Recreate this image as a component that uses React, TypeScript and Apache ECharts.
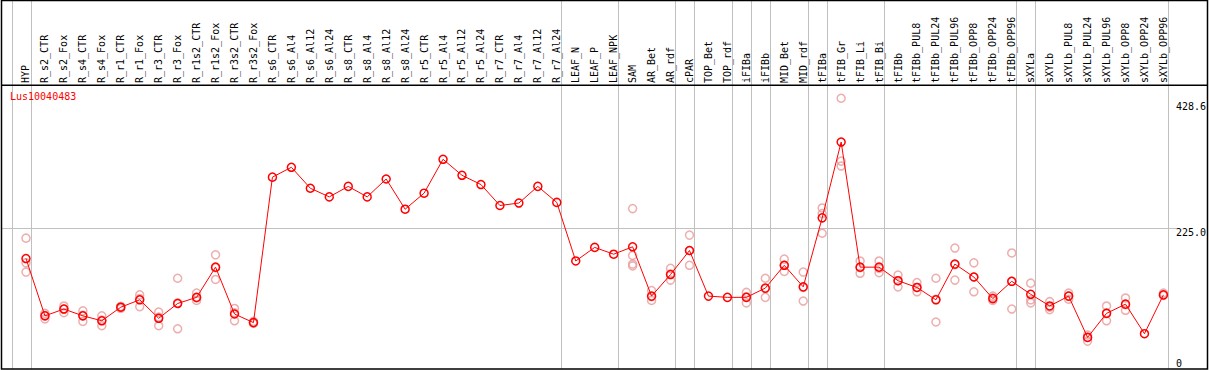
import React, { useEffect, useRef } from "react";
import * as echarts from "echarts";

const categories = [
  "HYP", "R_s2_CTR", "R_s2_Fox", "R_s4_CTR", "R_s4_Fox", "R_r1_CTR", "R_r1_Fox", "R_r3_CTR", "R_r3_Fox",
  "R_r1s2_CTR", "R_r1s2_Fox", "R_r3s2_CTR", "R_r3s2_Fox", "R_s6_CTR", "R_s6_Al4", "R_s6_Al12", "R_s6_Al24",
  "R_s8_CTR", "R_s8_Al4", "R_s8_Al12", "R_s8_Al24", "R_r5_CTR", "R_r5_Al4", "R_r5_Al12", "R_r5_Al24",
  "R_r7_CTR", "R_r7_Al4", "R_r7_Al12", "R_r7_Al24", "LEAF_N", "LEAF_P", "LEAF_NPK", "SAM", "AR_Bet", "AR_rdf",
  "cPAR", "TOP_Bet", "TOP_rdf", "iFIBa", "iFIBb", "MID_Bet", "MID_rdf", "tFIBa", "tFIB_Gr", "tFIB_Li", "tFIB_Bi",
  "tFIBb", "tFIBb_PUL8", "tFIBb_PUL24", "tFIBb_PUL96", "tFIBb_OPP8", "tFIBb_OPP24", "tFIBb_OPP96", "sXYLa",
  "sXYLb", "sXYLb_PUL8", "sXYLb_PUL24", "sXYLb_PUL96", "sXYLb_OPP8", "sXYLb_OPP24", "sXYLb_OPP96",
];

const means = [
  176, 83, 94, 83, 75, 97, 109, 79, 103, 113, 162, 86, 72, 308, 324, 290, 276, 293, 276, 305, 256, 282, 337,
  311, 296, 262, 266, 293, 267, 172, 194, 183, 195, 115, 150, 189, 115, 113, 113, 128, 165, 130, 242, 365, 162,
  162, 140, 129, 109, 167, 146, 111, 139, 118, 99, 115, 48, 87, 102, 54, 117,
];

const replicates: number[][] = [
  [209, 169, 154], [87, 78, 84], [99, 88, 94], [91, 74, 84], [83, 67, 76], [95, 98, 98], [117, 98, 111],
  [89, 67, 81], [144, 62, 104], [120, 108, 112], [182, 142, 161], [95, 75, 88], [71, 72, 74],
  [], [], [], [], [], [], [], [], [], [], [], [], [], [], [], [], [], [], [],
  [257, 181, 167, 164], [124, 108, 114], [160, 141, 151], [214, 165, 189], [], [], [121, 104, 114],
  [144, 113, 127], [175, 155, 165], [154, 107, 129], [258, 249, 217], [436, 334, 326], [172, 152, 161],
  [172, 153, 160], [149, 130, 140], [137, 122, 129], [144, 73, 110], [193, 141, 166], [169, 122, 146],
  [115, 108, 112], [185, 94, 139], [136, 109, 104], [106, 93, 97], [120, 110, 115], [52, 42, 48],
  [99, 75, 88], [112, 92, 101], [], [120, 116],
];

const groupBreaksAfter = [-1, 0, 28, 31, 34, 35, 37, 38, 39, 41, 42, 45, 52, 53, 60];
const yTickValues = [0, 225, 428.6];
const yMax = 457.5;
const geneId = "Lus10040483";

export default function App() {
  const ref = useRef<HTMLDivElement>(null);
  useEffect(() => {
    const chart = echarts.init(ref.current!, null, { renderer: "svg" });
    const font = "'DejaVu Sans Mono', monospace";
    const repData: number[][] = [];
    replicates.forEach((reps, i) => reps.forEach((v) => repData.push([i, v])));

    chart.setOption({
      animation: false,
      title: {
        text: geneId,
        left: 10,
        top: 91,
        padding: 0,
        textStyle: { color: "#ff0000", fontSize: 10, fontWeight: "normal", fontFamily: font },
      },
      grid: { left: 16.5, right: 33.5, top: 85, bottom: 3 },
      xAxis: {
        type: "category",
        data: categories,
        position: "top",
        boundaryGap: true,
        axisLine: { show: false },
        axisTick: { show: false },
        splitLine: { show: false },
        axisLabel: {
          interval: 0,
          rotate: 90,
          margin: 2,
          fontFamily: font,
          fontSize: 10,
          color: "#000",
          hideOverlap: false,
        },
      },
      yAxis: {
        type: "value",
        position: "right",
        min: 0,
        max: yMax,
        axisLine: { show: false },
        axisTick: { show: false },
        splitLine: { show: false },
        axisLabel: {
          customValues: yTickValues,
          margin: 3,
          fontFamily: font,
          fontSize: 10,
          color: "#000",
          formatter: (v: number) => (v === 0 ? "{b|0}" : "{t|" + v.toFixed(1) + "}"),
          rich: {
            t: { fontFamily: font, fontSize: 10, color: "#000", padding: [8, 0, 0, 0] },
            b: { fontFamily: font, fontSize: 10, color: "#000", padding: [0, 0, 8, 0] },
          },
        },
      },
      series: [
        {
          type: "scatter",
          data: repData,
          symbol: "circle",
          symbolSize: 8,
          itemStyle: { color: "transparent", borderColor: "#e89a9a", borderWidth: 1.5 },
          z: 2,
        },
        {
          type: "line",
          data: means,
          symbol: "circle",
          symbolSize: 8,
          showAllSymbol: true,
          lineStyle: { color: "#ff0000", width: 1 },
          itemStyle: { color: "transparent", borderColor: "#ff0000", borderWidth: 1.5 },
          z: 3,
        },
      ],
    });

    const x0 = chart.convertToPixel({ xAxisIndex: 0 }, categories[0]) as number;
    const x1 = chart.convertToPixel({ xAxisIndex: 0 }, categories[1]) as number;
    const band = x1 - x0;
    const y225 = Math.round(chart.convertToPixel({ yAxisIndex: 0 }, 225) as number) + 0.5;
    const seps = groupBreaksAfter.map((i) => {
      const x = Math.round(x0 + band * i + band * 0.24) + 0.5;
      return {
        type: "line",
        shape: { x1: x, y1: 0, x2: x, y2: 369 },
        style: { stroke: "#c0c0c0", lineWidth: 1 },
        z: 0,
      };
    });
    chart.setOption({
      graphic: [
        ...seps,
        {
          type: "line",
          shape: { x1: 1, y1: y225, x2: 1178, y2: y225 },
          style: { stroke: "#c0c0c0", lineWidth: 1 },
          z: 0,
        },
        {
          type: "line",
          shape: { x1: 1, y1: 85.25, x2: 1208, y2: 85.25 },
          style: { stroke: "#000", lineWidth: 1.5 },
          z: 10,
        },
        {
          type: "rect",
          shape: { x: 1.5, y: 0.5, width: 1206, height: 368.5 },
          style: { fill: "none", stroke: "#000", lineWidth: 1.5 },
          z: 10,
        },
      ],
    });

    return () => chart.dispose();
  }, []);
  return (
    <div
      ref={ref}
      style={{ position: "fixed", left: 0, top: 0, width: 1209, height: 370, background: "#fff" }}
    />
  );
}
